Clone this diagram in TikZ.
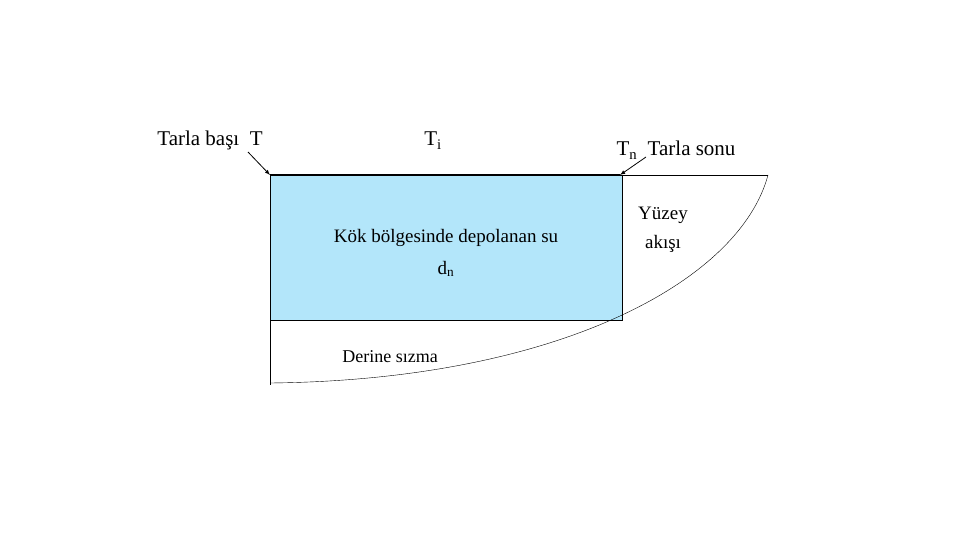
\documentclass[tikz,border=0pt]{standalone}
\usepackage{fontspec}
\setmainfont{Liberation Serif}
\begin{document}
\begin{tikzpicture}[x=1pt,y=-1pt,
  lbl/.style={inner sep=0pt,anchor=base},
  ptr/.style={-latex,thick}]
\useasboundingbox (0,0) rectangle (960,540);
\fill[cyan!30] (270,175) rectangle (622,320);
\draw (270,175) rectangle (622,320);
\draw[line width=2.2pt] (270,175) -- (620,175);
\draw (622,175) -- (768,175);
\draw (270,320) -- (270,385);
\draw (270,383) .. controls (560,380) and (740,280) .. (768,175);
\coordinate (A) at (270,175);
\coordinate (B) at (620,175);
\node[lbl,font=\fontsize{21}{24}\selectfont] (t1) at (210,146) {Tarla başı\ \ T};
\node[lbl,font=\fontsize{21}{24}\selectfont] (t2) at (433,146) {T\textsubscript{i}};
\node[lbl,font=\fontsize{21}{24}\selectfont] (t3) at (676,156) {T\textsubscript{n}\ \ Tarla sonu};
\coordinate (s1) at (248,152);
\coordinate (s2) at (646,157);
\draw[ptr] (s1) -- (A);
\draw[ptr] (s2) -- (B);
\node[lbl,font=\fontsize{19}{22}\selectfont] (k) at (446,242) {Kök bölgesinde depolanan su};
\node[lbl,font=\fontsize{19}{22}\selectfont] (d) at (446,274) {d\textsubscript{n}};
\node[lbl,font=\fontsize{19}{22}\selectfont] (y1) at (663,219) {Yüzey};
\node[lbl,font=\fontsize{19}{22}\selectfont] (y2) at (663,248) {akışı};
\node[lbl,font=\fontsize{18}{21}\selectfont] (dr) at (390,362) {Derine sızma};
\end{tikzpicture}
\end{document}
